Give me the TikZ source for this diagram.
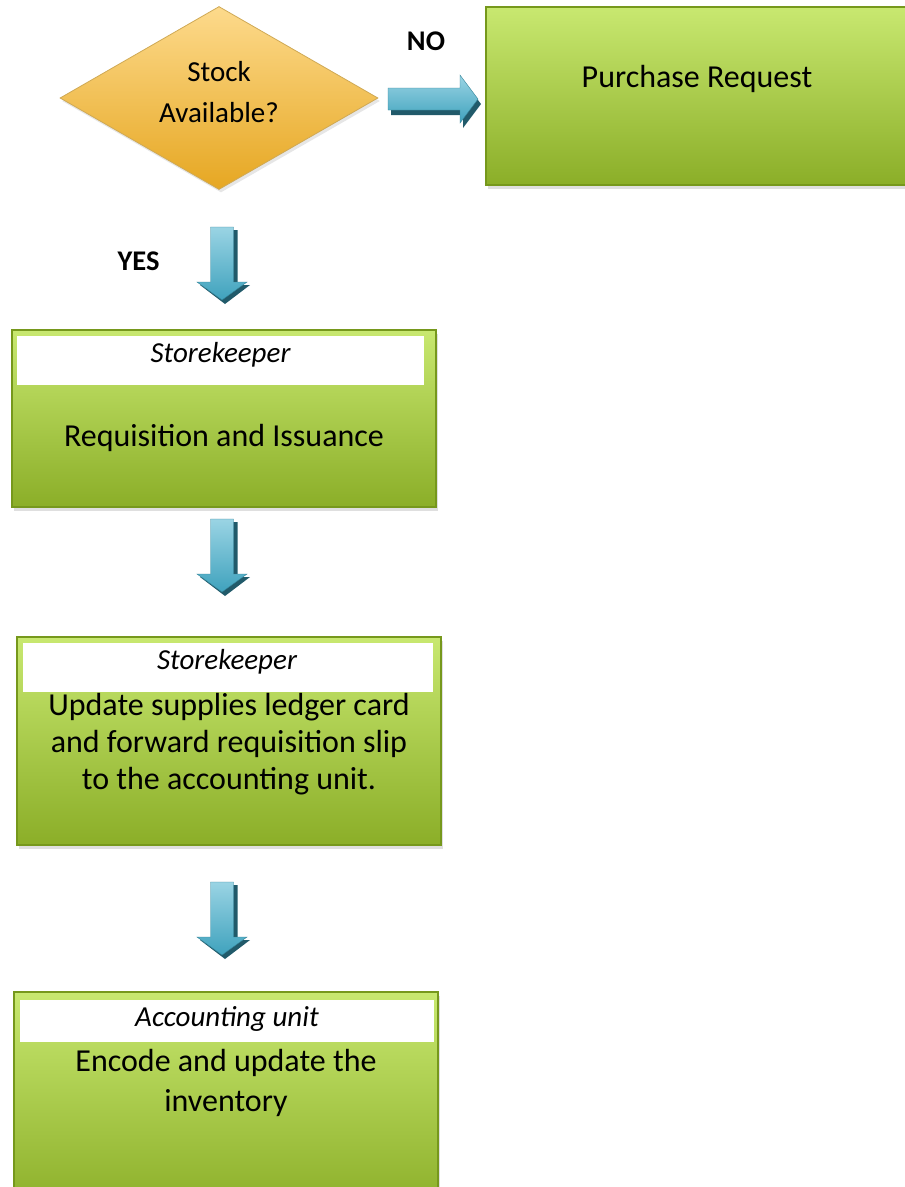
\documentclass[tikz,border=0pt]{standalone}
\usepackage{fontspec}
\setmainfont{Carlito}
\usetikzlibrary{shapes.geometric,shadows}
\definecolor{gtop}{HTML}{C8E870}
\definecolor{gbot}{HTML}{8BAE28}
\definecolor{gline}{HTML}{76981C}
\definecolor{dtop}{HTML}{FDDA8C}
\definecolor{dbot}{HTML}{E6A722}
\definecolor{dline}{HTML}{CFA955}
\definecolor{atop}{HTML}{9AD4E4}
\definecolor{abot}{HTML}{3FA2BD}
\definecolor{ashadow}{HTML}{215A6A}
\tikzset{
  greenbox/.style={draw=gline, line width=1.6pt, top color=gtop, bottom color=gbot,
    drop shadow={shadow xshift=2pt, shadow yshift=-4pt, opacity=0.25}, inner sep=0pt, rectangle},
  header/.style={fill=white, inner sep=0pt, rectangle},
  role/.style={font=\fontsize{29}{34}\selectfont\itshape, inner sep=0pt},
  maintext/.style={align=center, inner sep=0pt},
  labeltext/.style={font=\fontsize{28.5}{34}\selectfont\bfseries, inner sep=0pt},
  arrowbody/.style={top color=atop, bottom color=abot, draw=abot!80!black, line width=0.4pt},
  arrowshadow/.style={fill=ashadow},
}
\begin{document}
\begin{tikzpicture}[x=1pt,y=-1pt]
\useasboundingbox (0,0) rectangle (905,1187);
\clip (0,0) rectangle (905,1187);

% decision diamond
\node[diamond, draw=dline, line width=0.8pt, top color=dtop, bottom color=dbot,
  minimum width=318pt, minimum height=183pt, inner sep=0pt,
  drop shadow={shadow xshift=2pt, shadow yshift=-3pt, opacity=0.2}] (dec) at (219,98) {};
\node[maintext, font=\fontsize{29}{41}\selectfont] (dectext) at (219,92) {Stock\\Available?};

% purchase request
\node[greenbox, minimum width=434pt, minimum height=178pt] (pr) at (703,96) {};
\node[maintext, font=\fontsize{32}{37}\selectfont] (prtext) at (697,79) {Purchase Request};

% NO arrow
\coordinate (noarr) at (388,99);
\begin{scope}[shift={(noarr)}]
  \fill[arrowshadow] (3,-11+5) -- (72+3,-11+5) -- (72+3,-24+5) -- (90+3,0+5) -- (72+3,24+5) -- (72+3,11+5) -- (3,11+5) -- cycle;
  \path[arrowbody] (0,-11) -- (72,-11) -- (72,-24) -- (90,0) -- (72,24) -- (72,11) -- (0,11) -- cycle;
\end{scope}
\node[labeltext] (no) at (426,41) {NO};

% YES arrow and further down arrows
\foreach \nm/\yy in {a1/227, a2/519, a3/882}{
  \coordinate (\nm) at (222,\yy);
  \begin{scope}[shift={(\nm)}]
    \fill[arrowshadow] (-11.5+4,3) -- (11.5+4,3) -- (11.5+4,55+3) -- (25+3,55+3) -- (0+3,73+4) -- (-25+3,55+3) -- (-11.5+4,55+3) -- cycle;
    \path[arrowbody] (-11.5,0) -- (11.5,0) -- (11.5,55) -- (25,55) -- (0,73) -- (-25,55) -- (-11.5,55) -- cycle;
  \end{scope}
}
\node[labeltext] (yes) at (138.5,261) {YES};

% box 1
\node[greenbox, minimum width=424pt, minimum height=177pt] (b1) at (224,418.5) {};
\node[header, minimum width=407pt, minimum height=49pt] (h1) at (220.5,360.5) {};
\node[role] (r1) at (220.5,355) {Storekeeper};
\node[maintext, font=\fontsize{32}{37}\selectfont] (t1) at (224,438) {Requisition and Issuance};

% box 2
\node[greenbox, minimum width=424pt, minimum height=208pt] (b2) at (229,741) {};
\node[header, minimum width=410pt, minimum height=49pt] (h2) at (227.5,667.5) {};
\node[role] (r2) at (227,662) {Storekeeper};
\node[maintext, font=\fontsize{32}{37}\selectfont] (t2) at (229,744) {Update supplies ledger card\\and forward requisition slip\\to the accounting unit.};

% box 3
\node[greenbox, minimum width=424pt, minimum height=220pt] (b3) at (226,1102) {};
\node[header, minimum width=414pt, minimum height=42pt] (h3) at (227,1021) {};
\node[role] (r3) at (227,1019) {Accounting unit};
\node[maintext, font=\fontsize{32}{40}\selectfont] (t3) at (226,1083) {Encode and update the\\inventory};
\end{tikzpicture}
\end{document}
